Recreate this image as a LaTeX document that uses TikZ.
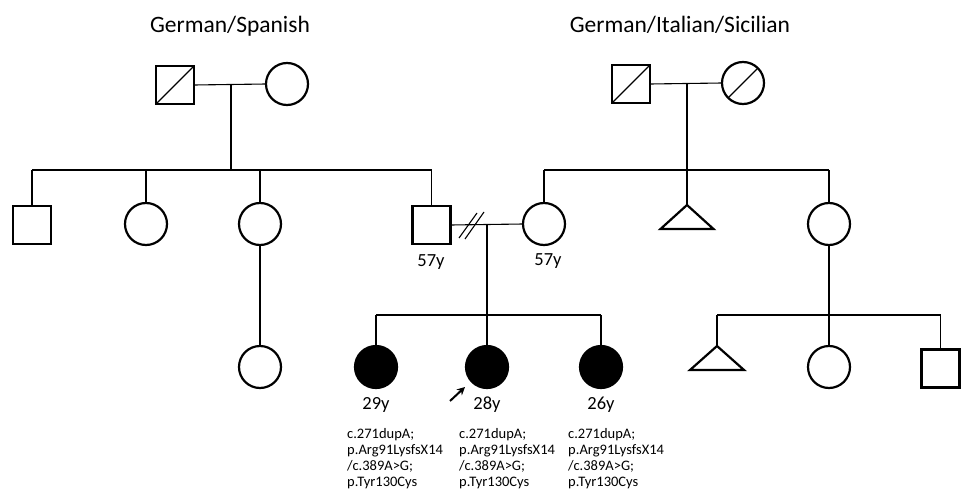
\documentclass[tikz,border=0pt]{standalone}
\usepackage{fontspec}
\setmainfont{Carlito}
\usetikzlibrary{arrows.meta}
\begin{document}
\begin{tikzpicture}[x=1pt,y=-1pt,
  male/.style={draw,line width=2.2pt,minimum size=38pt,inner sep=0pt,outer sep=0pt},
  female/.style={draw,circle,line width=2.2pt,minimum size=42pt,inner sep=0pt,outer sep=0pt},
  aff/.style={female,fill=black},
  link/.style={line width=1.1pt},
  tri/.style={line width=2.2pt,line join=miter},
  title/.style={font=\fontsize{23.5}{28}\selectfont},
  age/.style={font=\fontsize{18.5}{22}\selectfont},
  mut/.style={font=\fontsize{14.5}{16}\selectfont,align=left,anchor=north west,inner sep=0pt}]
\fill[white] (0,0) rectangle (961,495);
\useasboundingbox (0,0) rectangle (961,495);
% titles
\node[title] (t1) at (230,26) {German/Spanish};
\node[title] (t2) at (680,25) {German/Italian/Sicilian};
% left family gen I
\node[male] (gf1) at (175,85) {};
\draw[line width=1.4pt] (gf1.south west) -- (gf1.north east);
\node[female] (gm1) at (287,84) {};
\coordinate (m1) at (231,84);
\coordinate (s1) at (231,170);
\draw[link] (gf1.east) -- (gm1.west);
\draw[link] (m1) -- (s1);
% left gen II
\node[male] (a1) at (32,225) {};
\node[female] (a2) at (146,224) {};
\node[female] (a3) at (260,224) {};
\node[male] (fa) at (431.5,225) {};
\coordinate (sl1) at (32,170);
\coordinate (sr1) at (431.5,170);
\draw[link] (sl1) -- (sr1);
\draw[link] (sl1) -- (a1.north);
\draw[link] (146,170) -- (a2.north);
\draw[link] (260,170) -- (a3.north);
\draw[link] (sr1) -- (fa.north);
\node[female] (a3c) at (260,367) {};
\draw[link] (a3.south) -- (a3c.north);
% right family gen I
\node[male] (gf2) at (631,84) {};
\draw[line width=1.4pt] (gf2.south west) -- (gf2.north east);
\node[female] (gm2) at (743,83) {};
\draw[line width=1.4pt] (gm2.south west) -- (gm2.north east);
\coordinate (m2) at (687,84);
\coordinate (s2) at (687,170);
\draw[link] (gf2.east) -- (gm2.west);
\draw[link] (m2) -- (s2);
% right gen II
\node[female] (mo) at (544,224) {};
\coordinate (tri1) at (687,205);
\draw[tri] (tri1) -- (713.5,229) -- (660.5,229) -- cycle;
\node[female] (b3) at (829,224) {};
\coordinate (sl2) at (544,170);
\coordinate (sr2) at (829,170);
\draw[link] (sl2) -- (sr2);
\draw[link] (sl2) -- (mo.north);
\draw[link] (s2) -- (tri1);
\draw[link] (sr2) -- (b3.north);
% couple
\coordinate (mc) at (487,224.5);
\coordinate (sc) at (487,315);
\draw[link] (fa.east) -- (mo.west);
\draw[link] (459,238) -- (477,213);
\draw[link] (465,239) -- (484,212);
\draw[link] (mc) -- (sc);
\node[age] (agef) at (431,262) {57y};
\node[age] (agem) at (548,261) {57y};
% gen III
\node[aff] (c1) at (376,367) {};
\node[aff] (c2) at (487,367) {};
\node[aff] (c3) at (601,367) {};
\coordinate (sl3) at (376,315);
\coordinate (sr3) at (601,315);
\draw[link] (sl3) -- (sr3);
\draw[link] (sl3) -- (c1.north);
\draw[link] (sc) -- (c2.north);
\draw[link] (sr3) -- (c3.north);
\node[age] (ag1) at (376,405) {29y};
\node[age] (ag2) at (487,405) {28y};
\node[age] (ag3) at (601,405) {26y};
\coordinate (arA) at (450,401);
\coordinate (arB) at (465,387);
\draw[line width=2pt,-{Stealth[length=8pt,width=8pt]}] (arA) -- (arB);
\node[mut] (mu1) at (347,428) {c.271dupA;\\p.Arg91LysfsX14\\/c.389A>G;\\p.Tyr130Cys};
\node[mut] (mu2) at (459,428) {c.271dupA;\\p.Arg91LysfsX14\\/c.389A>G;\\p.Tyr130Cys};
\node[mut] (mu3) at (568,428) {c.271dupA;\\p.Arg91LysfsX14\\/c.389A>G;\\p.Tyr130Cys};
% right gen III
\coordinate (s4) at (829,315);
\draw[link] (b3.south) -- (s4);
\coordinate (sl4) at (717,315);
\coordinate (sr4) at (940.5,315);
\coordinate (tri2) at (717,346);
\draw[tri] (tri2) -- (744,370) -- (690,370) -- cycle;
\node[female] (d2) at (829,367) {};
\node[male] (d3) at (940.5,368.5) {};
\draw[link] (sl4) -- (sr4);
\draw[link] (sl4) -- (tri2);
\draw[link] (s4) -- (d2.north);
\draw[link] (sr4) -- (d3.north);
\end{tikzpicture}
\end{document}
